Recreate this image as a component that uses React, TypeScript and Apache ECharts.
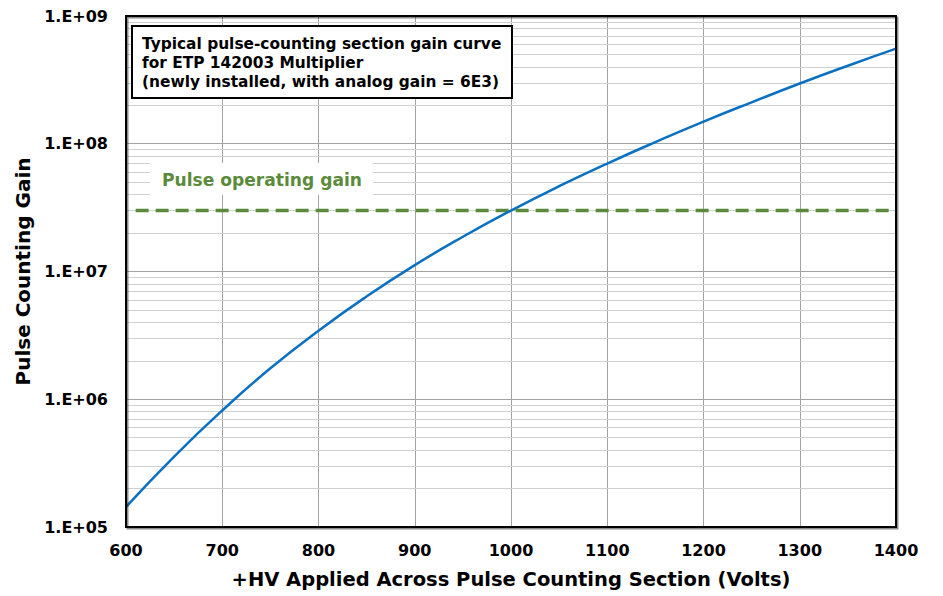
import React, { useEffect, useRef } from "react";
import * as echarts from "echarts";

const voltages = [600, 650, 700, 750, 800, 850, 900, 950, 1000, 1050, 1100, 1150, 1200, 1250, 1300, 1350, 1400];
const gains = [1.435e5, 3.56e5, 8.17e5, 1.746e6, 3.44e6, 6.38e6, 1.122e7, 1.871e7, 3.0e7, 4.65e7, 7.0e7, 1.03e8, 1.49e8, 2.11e8, 2.96e8, 4.08e8, 5.55e8];
const operatingGain = 3e7;
const operatingStartV = 610;
const operatingEndV = 1400;
const xTicks = [600, 700, 800, 900, 1000, 1100, 1200, 1300, 1400];
const decades = [1e5, 1e6, 1e7, 1e8];
const minorMultipliers = [2, 3, 4, 5, 6, 7, 8, 9];
const noteLines = [
  "Typical pulse-counting section gain curve",
  "for ETP 142003 Multiplier",
  "(newly installed, with analog gain = 6E3)",
];
const operatingLabel = "Pulse operating gain";

const FONT = "'DejaVu Sans', 'Liberation Sans', Arial, sans-serif";
const GREEN = "#5b8b3a";

export default function App() {
  const ref = useRef<HTMLDivElement>(null);
  useEffect(() => {
    if (!ref.current) return;
    const chart = echarts.init(ref.current, null, { renderer: "svg" });
    const minorValues: number[] = [];
    decades.forEach((d) => minorMultipliers.forEach((m) => minorValues.push(d * m)));
    chart.setOption({
      animation: false,
      backgroundColor: "#ffffff",
      grid: {
        left: 126,
        right: 47,
        top: 16,
        bottom: 69,
        show: true,
        borderColor: "#000",
        borderWidth: 2,
        backgroundColor: "transparent",
        shadowColor: "rgba(0,0,0,0.45)",
        shadowOffsetX: 1.5,
        shadowOffsetY: 1.5,
        shadowBlur: 0,
        z: 20,
      },
      xAxis: {
        type: "value",
        min: 600,
        max: 1400,
        interval: 100,
        name: "+HV Applied Across Pulse Counting Section (Volts)",
        nameLocation: "middle",
        nameGap: 42,
        nameTextStyle: { fontFamily: FONT, fontWeight: "bold", fontSize: 19.5, color: "#000" },
        axisLine: { show: false },
        axisTick: { show: false },
        axisLabel: {
          fontFamily: FONT,
          fontWeight: "bold",
          fontSize: 16,
          color: "#000",
          margin: 15,
          formatter: (v: number) => (xTicks.includes(v) ? String(v) : ""),
        },
        splitLine: { show: true, lineStyle: { color: "#a3a3a3", width: 1 } },
      },
      yAxis: {
        type: "log",
        logBase: 10,
        min: 1e5,
        max: 1e9,
        name: "Pulse Counting Gain",
        nameLocation: "middle",
        nameGap: 87,
        nameTextStyle: { fontFamily: FONT, fontWeight: "bold", fontSize: 20, color: "#000" },
        axisLine: { show: false },
        axisTick: { show: false },
        axisLabel: {
          fontFamily: FONT,
          fontWeight: "bold",
          fontSize: 16,
          color: "#000",
          margin: 18,
          formatter: (v: number) => {
            const e = Math.round(Math.log10(v));
            return "1.E+" + (e < 10 ? "0" + e : String(e));
          },
        },
        splitLine: { show: true, lineStyle: { color: "#a3a3a3", width: 1 } },
      },
      series: [
        {
          type: "line",
          name: "minor",
          data: [],
          silent: true,
          z: 0,
          markLine: {
            silent: true,
            z: 0,
            symbol: "none",
            label: { show: false },
            lineStyle: { color: "#cfcfcf", width: 1, type: "solid" },
            data: minorValues.map((v) => ({ yAxis: v })),
          },
        },
        {
          type: "line",
          name: "operating",
          data: [
            [operatingStartV, operatingGain],
            [operatingEndV, operatingGain],
          ],
          symbol: "none",
          lineStyle: { color: GREEN, width: 3.5, type: [13, 7] },
          z: 3,
        },
        {
          type: "line",
          name: "gain",
          data: voltages.map((v, i) => [v, gains[i]]),
          smooth: true,
          symbol: "none",
          lineStyle: { color: "#0a70c2", width: 2.5 },
          z: 4,
        },
      ],
      graphic: [
        {
          type: "rect",
          z: 100,
          shape: { x: 132, y: 26, width: 380, height: 72 },
          style: { fill: "#fff", stroke: "#000", lineWidth: 2 },
        },
        ...noteLines.map((t, i) => ({
          type: "text",
          z: 101,
          x: 142,
          y: 36 + i * 19,
          style: {
            text: t,
            fontFamily: FONT,
            fontWeight: "bold",
            fontSize: 15.4,
            fill: "#000",
            textVerticalAlign: "top",
          },
        })),
        {
          type: "rect",
          z: 100,
          shape: { x: 150, y: 163, width: 223, height: 32 },
          style: { fill: "#fff" },
        },
        {
          type: "text",
          z: 101,
          x: 162,
          y: 180,
          style: {
            text: operatingLabel,
            fontFamily: FONT,
            fontWeight: "bold",
            fontSize: 17.1,
            fill: GREEN,
            textVerticalAlign: "middle",
          },
        },
      ],
    });
    return () => chart.dispose();
  }, []);
  return <div ref={ref} style={{ width: 943, height: 596, position: "absolute", left: 0, top: 0 }} />;
}
